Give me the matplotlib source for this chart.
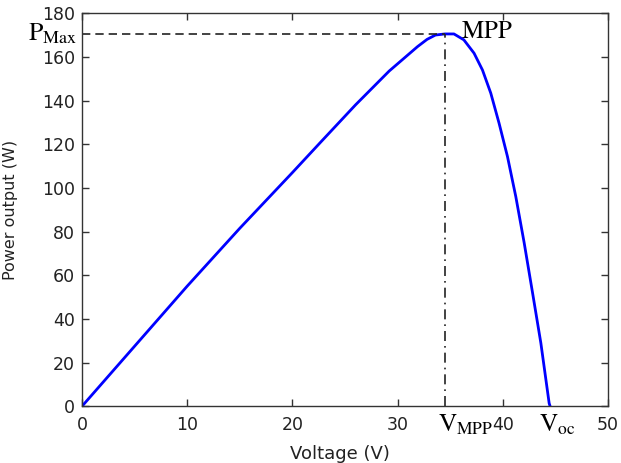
"""
PV module P-V curve with the maximum power point marked.
"""
import matplotlib
matplotlib.use("Agg")
import matplotlib.pyplot as plt
import numpy as np

# values
voltage = [0, 5, 10, 15, 20, 22.7, 26.0, 29.2, 31.9, 32.8, 33.6, 34.5, 35.36,
           36.3, 37.27, 38.07, 38.86, 39.65, 40.45, 41.24, 42.03, 42.83, 43.62,
           44.41, 44.5]
power = [0, 27.5, 55, 81.5, 107, 121, 138, 153.5, 164.7, 168, 170, 170.5, 170.5,
         167.8, 161.7, 154, 143.4, 129.6, 114.3, 96, 75, 52, 29,
         1.4, 0]
v_mpp = 34.5
p_max = 170.5
v_oc = 44.4
x_ticks = [0, 10, 20, 30, 40, 50]
y_ticks = [0, 20, 40, 60, 80, 100, 120, 140, 160, 180]

plt.rcParams["mathtext.fontset"] = "stix"
AXC = "#333333"

fig = plt.figure(figsize=(6.21, 4.63), dpi=100)
ax = fig.add_axes([0.132, 0.1225, 0.847, 0.849])

ax.plot(voltage, power, color="#0000FF", lw=2)
ax.plot([0, v_mpp], [p_max, p_max], color="#222222", lw=1.2, ls=(0, (5, 3)))
ax.plot([v_mpp, v_mpp], [0, p_max], color="#222222", lw=1.2, ls=(0, (6, 3, 1, 3)))

ax.set_xlim(0, 50)
ax.set_ylim(0, 180)
ax.set_xticks(x_ticks)
ax.set_yticks(y_ticks)
ax.tick_params(direction="in", length=5, width=1, color=AXC, top=True, right=True,
               labelsize=12.5, labelcolor="#222222")
ax.tick_params(axis="x", pad=7)
ax.tick_params(axis="y", pad=5)
for sp in ax.spines.values():
    sp.set_color(AXC)
    sp.set_linewidth(1)

ax.set_xlabel("Voltage (V)", fontsize=13, color="#222222")
ax.xaxis.set_label_coords(0.49, -0.134)
ax.xaxis.label.set_va("baseline")
ax.set_ylabel("Power output (W)", fontsize=11.5, color="#222222")
ax.yaxis.set_label_coords(-0.122, 0.5)

ax.text(-0.4, 170.8, r"$\mathrm{P}_{\mathrm{Max}}$", fontsize=18.5, ha="right",
        va="center", clip_on=False)
ax.text(36.0, 172, r"$\mathrm{MPP}$", fontsize=18, ha="left",
        va="center", clip_on=False)
ax.text(v_mpp - 0.7, -8.5, r"$\mathrm{V}_{\mathrm{MPP}}$", fontsize=18, ha="left",
        va="center", clip_on=False)
ax.text(v_oc - 1.0, -8.5, r"$\mathrm{V}_{\mathrm{oc}}$", fontsize=18, ha="left",
        va="center", clip_on=False)

fig.savefig("out.png", dpi=100, facecolor="white")
